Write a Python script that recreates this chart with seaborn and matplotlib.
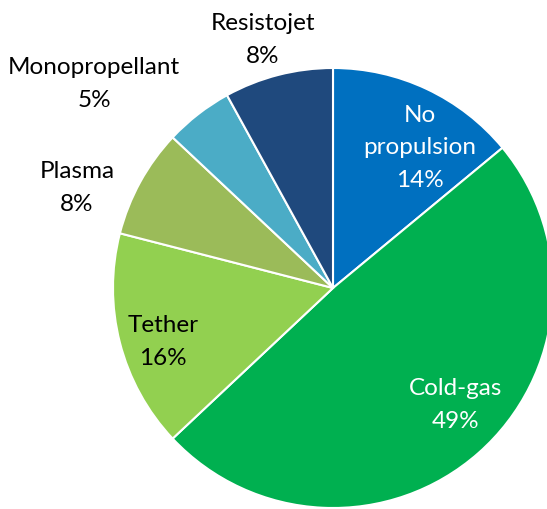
import matplotlib
matplotlib.use("Agg")
import matplotlib.pyplot as plt
import seaborn as sns

# propulsion types, clockwise from 12 o'clock
labels = ["No\npropulsion", "Cold-gas", "Tether", "Plasma", "Monopropellant", "Resistojet"]
shares = [14, 49, 16, 8, 5, 8]
colors = ["#0070C0", "#00B050", "#92D050", "#9BBB59", "#4BACC6", "#1F497D"]
text_colors = ["white", "white", "black", "black", "black", "black"]

# label anchor in pixel offsets from the pie centre
label_pos = [(87, 141), (123, -116), (-170, -53), (-256, 101), (-239, 205), (-70, 249)]

sns.set_theme(style="white")
plt.rcParams["font.family"] = ["Lato", "DejaVu Sans"]

W, H = 547, 510
cx, cy, R = 333, 221, 220  # centre (from bottom) and radius, in pixels

fig = plt.figure(figsize=(W / 100, H / 100), dpi=100)
ax = fig.add_axes([0, 0, 1, 1])
ax.pie(shares, colors=colors, startangle=90, counterclock=False, radius=R,
       wedgeprops=dict(edgecolor="white", linewidth=1.5))
ax.set_xlim(-cx, W - cx)
ax.set_ylim(-cy, H - cy)
ax.set_aspect("equal")
ax.axis("off")

for lab, val, (x, y), c in zip(labels, shares, label_pos, text_colors):
    ax.text(x, y, f"{lab}\n{val}%", ha="center", va="center", color=c,
            fontsize=17.5, linespacing=1.65)

fig.savefig("out.png", dpi=100)
